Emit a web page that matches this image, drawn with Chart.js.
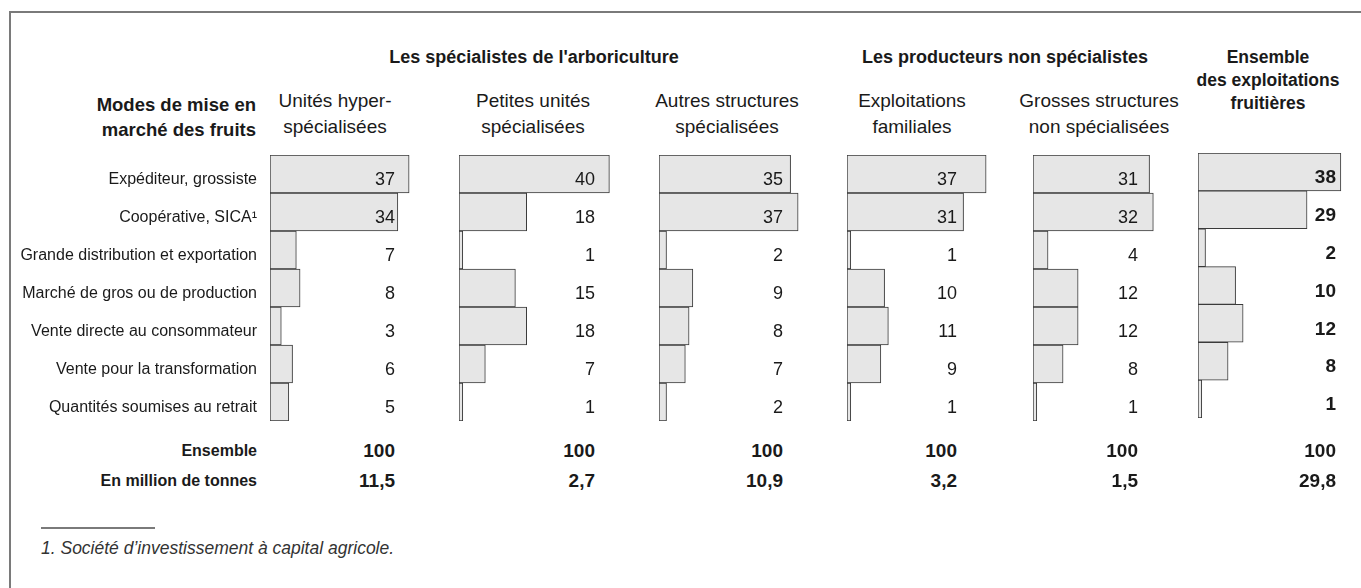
<!DOCTYPE html>
<html lang="fr">
<head>
<meta charset="UTF-8">
<title>Modes de mise en marché des fruits</title>
<script src="https://cdn.jsdelivr.net/npm/chart.js"></script>
<style>
  body { margin: 0; background: #fff; width: 1361px; height: 588px; overflow: hidden; position: relative;
         font-family: 'Liberation Sans', Arial, sans-serif; color: #1a1a1a; }
  .frame { position: absolute; left: 9px; top: 11px; width: 1400px; height: 620px;
           border-top: 2px solid #7a7a7a; border-left: 2px solid #7a7a7a; }
  .t { position: absolute; white-space: nowrap; }
  .c { transform: translateX(-50%); text-align: center; }
  .grp { font-weight: bold; font-size: 18px; line-height: 20px; }
  .sub { font-size: 19px; line-height: 26px; }
  .num { font-weight: bold; font-size: 19px; line-height: 20px; text-align: right; transform: translateX(-100%); }
  .panel { position: absolute; }
  .note-line { position: absolute; left: 41px; top: 527px; width: 114px; border-top: 2px solid #7a7a7a; }
  .note { position: absolute; left: 41px; top: 538px; font-style: italic; font-size: 17.5px; color: #333; }
</style>
</head>
<body>
<div class="frame"></div>

<div class="t c grp" style="left:534px; top:47px;">Les spécialistes de l'arboriculture</div>
<div class="t c grp" style="left:1005px; top:47px;">Les producteurs non spécialistes</div>
<div class="t c grp" style="left:1268px; top:46px; line-height:23px; font-size:17.5px;">Ensemble<br>des exploitations<br>fruitières</div>

<div class="t grp" style="right:1105px; top:92px; line-height:25px; text-align:right; font-size:18.5px;">Modes de mise en<br>marché des fruits</div>

<div id="subs"></div>
<div id="panels"></div>
<div id="totals"></div>

<div class="note-line"></div>
<div class="note">1. Société d’investissement à capital agricole.</div>

<script>
// données
const categories = [
  'Expéditeur, grossiste',
  'Coopérative, SICA¹',
  'Grande distribution et exportation',
  'Marché de gros ou de production',
  'Vente directe au consommateur',
  'Vente pour la transformation',
  'Quantités soumises au retrait'
];
const groupNames = [
  ['Unités hyper-', 'spécialisées'],
  ['Petites unités', 'spécialisées'],
  ['Autres structures', 'spécialisées'],
  ['Exploitations', 'familiales'],
  ['Grosses structures', 'non spécialisées'],
  null
];
const hyperSpecialisees = [37, 34, 7, 8, 3, 6, 5];
const petitesUnites = [40, 18, 1, 15, 18, 7, 1];
const autresStructures = [35, 37, 2, 9, 8, 7, 2];
const exploitationsFamiliales = [37, 31, 1, 10, 11, 9, 1];
const grossesStructures = [31, 32, 4, 12, 12, 8, 1];
const ensembleExploitations = [38, 29, 2, 10, 12, 8, 1];
const totalLabels = ['Ensemble', 'En million de tonnes'];
const ensembleTotals = ['100', '100', '100', '100', '100', '100'];
const tonnages = ['11,5', '2,7', '10,9', '3,2', '1,5', '29,8'];

const series = [hyperSpecialisees, petitesUnites, autresStructures,
                exploitationsFamiliales, grossesStructures, ensembleExploitations];

// mise en page des panneaux
const barLeft = [270, 459, 659, 847, 1033, 1198];
const labelRight = [395, 595, 783, 957, 1138, 1336];
const subCenter = [335, 533, 727, 912, 1099, null];
const axisW = 260;
const plotW = 188;   // 0..50 -> 3,76 px par point

// plugin: valeurs en colonne à droite de chaque barre
const colLabels = {
  id: 'colLabels',
  afterDatasetsDraw(chart, args, opts) {
    const ctx = chart.ctx;
    const meta = chart.getDatasetMeta(0);
    ctx.save();
    ctx.fillStyle = '#1a1a1a';
    ctx.font = (opts.bold ? 'bold 19px' : '18px') + ' "Liberation Sans", Arial, sans-serif';
    ctx.textAlign = 'right';
    ctx.textBaseline = 'middle';
    meta.data.forEach((el, i) => {
      const v = chart.data.datasets[0].data[i];
      ctx.fillText(String(v), chart.chartArea.left + opts.offset, el.y + 6);
    });
    ctx.restore();
  }
};

const panelsDiv = document.getElementById('panels');
series.forEach((data, p) => {
  const first = p === 0;
  const last = p === series.length - 1;
  const left = first ? barLeft[p] - axisW : barLeft[p];
  const width = first ? axisW + plotW : plotW;
  const top = last ? 153 : 155;
  const height = last ? 265 : 266;

  const wrap = document.createElement('div');
  wrap.className = 'panel';
  wrap.style.left = left + 'px';
  wrap.style.top = top + 'px';
  const cv = document.createElement('canvas');
  cv.width = width;
  cv.height = height;
  wrap.appendChild(cv);
  panelsDiv.appendChild(wrap);

  const yAxis = {
    display: first,
    grid: { display: false, drawTicks: false },
    border: { display: false },
    ticks: {
      padding: 13,
      labelOffset: 6,
      color: '#1a1a1a',
      font: { family: "'Liberation Sans', Arial, sans-serif", size: 16 }
    }
  };
  if (first) {
    yAxis.afterFit = s => { s.width = axisW; s.paddingTop = 0; s.paddingBottom = 0; };
  }

  new Chart(cv.getContext('2d'), {
    type: 'bar',
    data: {
      labels: categories,
      datasets: [{
        data: data,
        backgroundColor: '#e6e6e6',
        borderColor: '#3a3a3a',
        borderWidth: 1,
        borderSkipped: false,
        barPercentage: 1,
        categoryPercentage: 1
      }]
    },
    options: {
      indexAxis: 'y',
      responsive: false,
      animation: false,
      layout: { padding: 0 },
      scales: {
        x: { type: 'linear', min: 0, max: 50, display: false },
        y: yAxis
      },
      plugins: {
        legend: { display: false },
        tooltip: { enabled: false },
        colLabels: { offset: labelRight[p] - barLeft[p], bold: last }
      }
    },
    plugins: [colLabels]
  });
});

// en-têtes des colonnes
const subsDiv = document.getElementById('subs');
groupNames.forEach((g, p) => {
  if (!g) return;
  const d = document.createElement('div');
  d.className = 't c sub';
  d.style.left = subCenter[p] + 'px';
  d.style.top = '88px';
  d.innerHTML = g.join('<br>');
  subsDiv.appendChild(d);
});

// lignes du bas
const totalsDiv = document.getElementById('totals');
[ensembleTotals, tonnages].forEach((row, r) => {
  const y = r === 0 ? 441 : 471;
  const lab = document.createElement('div');
  lab.className = 't';
  lab.style.cssText = 'right:1104px; top:' + y + 'px; font-weight:bold; font-size:16px; line-height:20px;';
  lab.textContent = totalLabels[r];
  totalsDiv.appendChild(lab);
  row.forEach((v, p) => {
    const d = document.createElement('div');
    d.className = 't num';
    d.style.left = labelRight[p] + 'px';
    d.style.top = y + 'px';
    d.textContent = v;
    totalsDiv.appendChild(d);
  });
});
</script>
</body>
</html>
